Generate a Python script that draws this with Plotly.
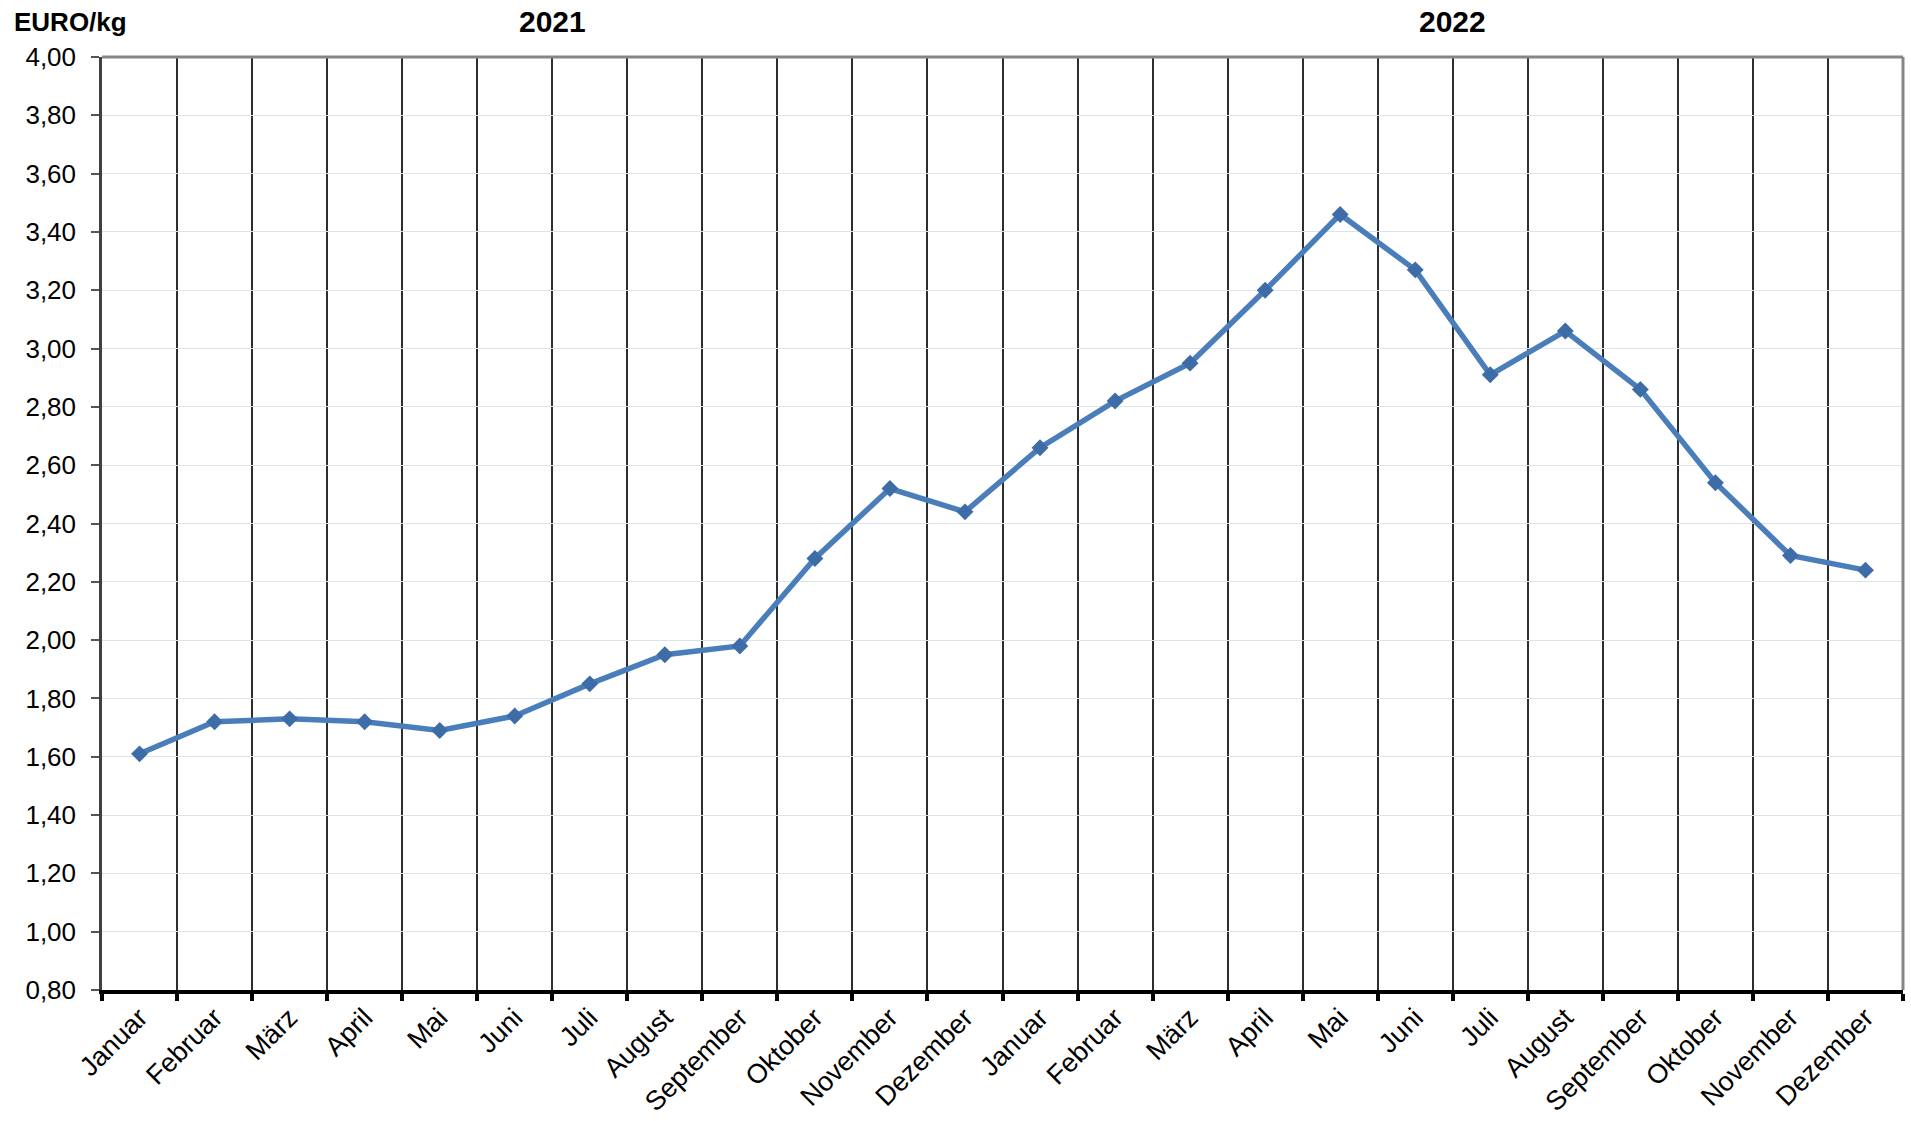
import plotly.graph_objects as go

months = ["Januar", "Februar", "März", "April", "Mai", "Juni", "Juli", "August",
          "September", "Oktober", "November", "Dezember"]
years = ["2021", "2022"]
labels = months + months
prices = [1.61, 1.72, 1.73, 1.72, 1.69, 1.74, 1.85, 1.95, 1.98, 2.28, 2.52, 2.44,
          2.66, 2.82, 2.95, 3.20, 3.46, 3.27, 2.91, 3.06, 2.86, 2.54, 2.29, 2.24]
y_ticks = [0.8 + 0.2 * i for i in range(17)]
y_ticktext = [f"{v:.2f}".replace(".", ",") for v in y_ticks]

x = list(range(len(prices)))
FONT = "Liberation Sans, Arial, sans-serif"

fig = go.Figure()
fig.add_trace(go.Scatter(
    x=x, y=prices, mode="lines+markers",
    line=dict(color="#4a7ebb", width=5.5),
    marker=dict(symbol="diamond", size=13, color="#3d6ca6"),
    showlegend=False, hoverinfo="skip",
))

fig.update_layout(
    width=1911, height=1121,
    margin=dict(l=102, r=8, t=57, b=131),
    paper_bgcolor="white", plot_bgcolor="white",
    font=dict(family=FONT, color="black"),
    xaxis=dict(
        range=[-0.5, 23.5], tickmode="array", tickvals=x, ticktext=labels,
        tickangle=-45, ticks="", showgrid=False, zeroline=False,
        tickfont=dict(size=27, family=FONT, color="black"),
        showline=True, linecolor="black", linewidth=4,
        ticklabelstandoff=-3, automargin=False,
        minor=dict(tickmode="linear", tick0=-0.5, dtick=1, ticks="outside",
                   ticklen=7, tickwidth=4, tickcolor="black",
                   showgrid=True, gridcolor="#2e2e2e", gridwidth=1.5),
    ),
    yaxis=dict(
        range=[0.8, 4.0], tickmode="array", tickvals=y_ticks, ticktext=y_ticktext,
        ticks="outside", ticklen=8, tickwidth=1.5, tickcolor="#555555",
        tickfont=dict(size=26, family=FONT, color="black"),
        showgrid=True, gridcolor="#dde3ee", gridwidth=1, zeroline=False,
        showline=True, linecolor="#404040", linewidth=2.5,
        ticklabelstandoff=10, automargin=False,
    ),
)

# top and right frame lines
fig.add_shape(type="line", xref="paper", yref="paper", x0=0, x1=1, y0=1, y1=1,
              line=dict(color="#858585", width=3))
fig.add_shape(type="line", xref="paper", yref="paper", x0=1, x1=1, y0=0, y1=1,
              line=dict(color="#858585", width=3))

fig.add_annotation(x=5.5, y=1, xref="x", yref="paper", yanchor="middle", yshift=36,
                   text=f"<b>{years[0]}</b>", showarrow=False,
                   font=dict(size=30, family=FONT, color="black"))
fig.add_annotation(x=17.5, y=1, xref="x", yref="paper", yanchor="middle", yshift=36,
                   text=f"<b>{years[1]}</b>", showarrow=False,
                   font=dict(size=30, family=FONT, color="black"))
fig.add_annotation(x=0, y=1, xref="paper", yref="paper", xanchor="left", yanchor="middle",
                   xshift=-90, yshift=35, text="<b>EURO/kg</b>", showarrow=False,
                   font=dict(size=26, family=FONT, color="black"))

fig.write_html("out.html", config={"displayModeBar": False},
               post_script="document.body.style.margin='0';")
